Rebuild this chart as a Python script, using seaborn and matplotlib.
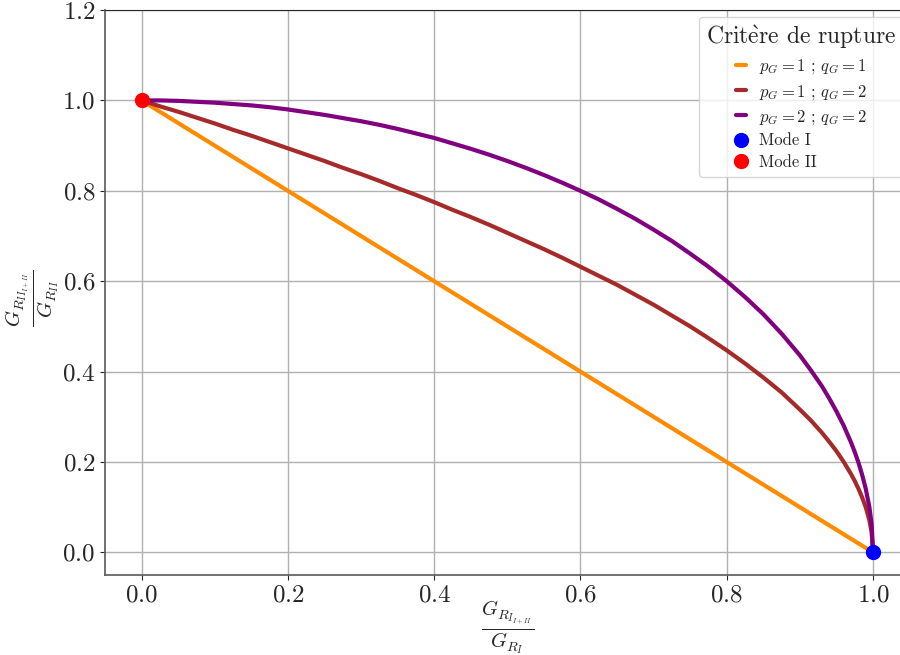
import seaborn as sns
import matplotlib.pyplot as plt
import pandas as pd

# values
x_lin = [0.0, 1.0]
y_lin = [1.0, 0.0]

x_curve = [0.0, 0.025, 0.05, 0.075, 0.1, 0.125, 0.15, 0.175, 0.2, 0.225, 0.25, 0.275,
           0.3, 0.325, 0.35, 0.375, 0.4, 0.425, 0.45, 0.475, 0.5, 0.525, 0.55, 0.575,
           0.6, 0.625, 0.65, 0.675, 0.7, 0.725, 0.75, 0.775, 0.8, 0.825, 0.85, 0.875,
           0.9, 0.915, 0.93, 0.94, 0.95, 0.96, 0.97, 0.975, 0.98, 0.985, 0.99, 0.995,
           0.998, 1.0]
y_p1_q2 = [1.0, 0.987, 0.975, 0.962, 0.949, 0.935, 0.922, 0.908, 0.894, 0.88, 0.866, 0.851,
           0.837, 0.822, 0.806, 0.791, 0.775, 0.758, 0.742, 0.725, 0.707, 0.689, 0.671, 0.652,
           0.632, 0.612, 0.592, 0.57, 0.548, 0.524, 0.5, 0.474, 0.447, 0.418, 0.387, 0.354,
           0.316, 0.292, 0.265, 0.245, 0.224, 0.2, 0.173, 0.158, 0.141, 0.122, 0.1, 0.071,
           0.045, 0.0]
y_p2_q2 = [1.0, 1.0, 0.999, 0.997, 0.995, 0.992, 0.989, 0.985, 0.98, 0.974, 0.968, 0.961,
           0.954, 0.946, 0.937, 0.927, 0.917, 0.905, 0.893, 0.88, 0.866, 0.851, 0.835, 0.818,
           0.8, 0.781, 0.76, 0.738, 0.714, 0.689, 0.661, 0.632, 0.6, 0.565, 0.527, 0.484,
           0.436, 0.403, 0.368, 0.341, 0.312, 0.28, 0.243, 0.222, 0.199, 0.172, 0.141, 0.1,
           0.063, 0.0]

mode_I = (1.0, 0.0)
mode_II = (0.0, 1.0)

sns.set_style("ticks")
plt.rcParams['font.family'] = ['cmr10', 'DejaVu Serif']
plt.rcParams['mathtext.fontset'] = 'cm'
plt.rcParams['axes.formatter.use_mathtext'] = True

fig = plt.figure(figsize=(9, 6.55), dpi=100)
ax = fig.add_axes([0.1167, 0.1221, 0.894, 0.8626])

df_lin = pd.DataFrame({'x': x_lin, 'y': y_lin})
df_curve = pd.DataFrame({'x': x_curve, 'y1': y_p1_q2, 'y2': y_p2_q2})

sns.lineplot(data=df_lin, x='x', y='y', ax=ax, color='darkorange', lw=3,
             label=r'$p_G = 1$ ; $q_G = 1$', estimator=None, sort=False)
sns.lineplot(data=df_curve, x='x', y='y1', ax=ax, color='brown', lw=3,
             label=r'$p_G = 1$ ; $q_G = 2$', estimator=None, sort=False)
sns.lineplot(data=df_curve, x='x', y='y2', ax=ax, color='purple', lw=3,
             label=r'$p_G = 2$ ; $q_G = 2$', estimator=None, sort=False)
ax.plot(*mode_I, 'o', color='blue', ms=10, label='Mode I', zorder=5)
ax.plot(*mode_II, 'o', color='red', ms=10, label='Mode II', zorder=5)

ax.set_xlim(-0.05, 1.05)
ax.set_ylim(-0.05, 1.2)
ax.set_xticks([0.0, 0.2, 0.4, 0.6, 0.8, 1.0])
ax.set_yticks([0.0, 0.2, 0.4, 0.6, 0.8, 1.0, 1.2])
ax.tick_params(labelsize=18)
ax.grid(True, color='#b0b0b0', lw=1)
for s in ['left', 'bottom']:
    ax.spines[s].set_color('0.35')
    ax.spines[s].set_linewidth(1.2)

ax.set_xlabel(r'$\frac{G_{R_{I_{I+II}}}}{G_{R_I}}$', fontsize=21, va='center')
ax.xaxis.set_label_coords(0.5, -0.094)
ax.set_ylabel(r'$\frac{G_{R_{II_{I+II}}}}{G_{R_{II}}}$', fontsize=21, va='center')
ax.yaxis.set_label_coords(-0.09, 0.49)

# accent drawn through mathtext so it stays in the Computer Modern look
leg = ax.legend(title=r'Crit$\mathrm{\grave{e}}$re de rupture', loc='upper right',
                fontsize=12, title_fontsize=17, handlelength=0.6, labelspacing=0.38,
                borderaxespad=0.4)

fig.savefig('out.png', dpi=100)
plt.close()
